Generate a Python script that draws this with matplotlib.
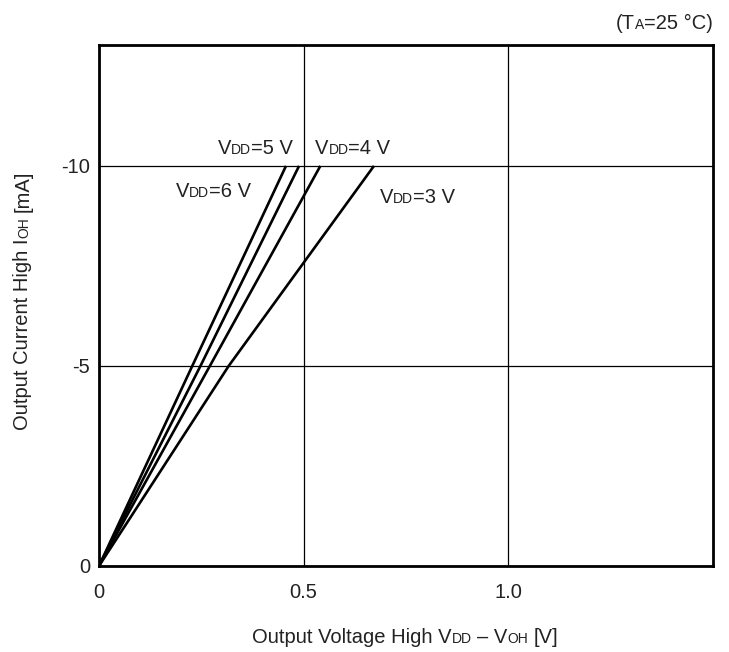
import numpy as np
import matplotlib
matplotlib.use('Agg')
import matplotlib.pyplot as plt
from matplotlib.font_manager import FontProperties
from matplotlib.transforms import offset_copy

plt.rcParams['font.family'] = ['Liberation Sans', 'DejaVu Sans']

FS = 14.5   # main text size
SUB = 10    # small-caps subscript size

# data: IOH [mA] against VDD - VOH [V]
ioh = [0, -5, -10]
voh_6v = [0, 0.228, 0.457]
voh_5v = [0, 0.248, 0.489]
voh_4v = [0, 0.271, 0.541]
voh_3v = [0, 0.317, 0.672]

x_ticks = [0, 0.5, 1.0]
x_tick_labels = ['0', '0.5', '1.0']
y_ticks = [0, -5, -10]
y_tick_labels = ['0', '-5', '-10']

fig = plt.figure(figsize=(7.29, 6.52), dpi=100)
ax = fig.add_axes([0.1358, 0.132, 0.842, 0.7995])
renderer = fig.canvas.get_renderer()


def text_width(s, size):
    prop = FontProperties(family=['Liberation Sans'], size=size)
    w, _, _ = renderer.get_text_width_height_descent(s, prop, ismath=False)
    return w


def piece_width(s, size):
    # measure with the spaces counted by their advance
    core = s.strip(' ')
    sp = text_width('x x', size) - text_width('xx', size)
    n_sp = len(s) - len(core)
    w = text_width(core, size) if core else 0
    return w + n_sp * sp


def rich_text(x, y, parts, transform, ha='left', rotation=0):
    # parts: list of (string, size); drawn one after another on one baseline
    widths = [piece_width(s, sz) for s, sz in parts]
    total = sum(widths)
    if ha == 'center':
        start = -total / 2
    elif ha == 'right':
        start = -total
    else:
        start = 0
    pos = start
    for (s, sz), w in zip(parts, widths):
        lead = len(s) - len(s.lstrip(' '))
        sp = text_width('x x', sz) - text_width('xx', sz)
        off = pos + lead * sp
        if rotation == 90:
            tr = offset_copy(transform, fig=fig, x=0, y=off, units='dots')
        else:
            tr = offset_copy(transform, fig=fig, x=off, y=0, units='dots')
        if s.strip(' '):
            fig.text(x, y, s.strip(' '), transform=tr, fontsize=sz, ha='left',
                     va='baseline', rotation=rotation, rotation_mode='anchor',
                     color='#222222')
        pos += w


for xs in (voh_6v, voh_5v, voh_4v, voh_3v):
    ax.plot(xs, ioh, color='black', lw=1.9, solid_capstyle='butt')

ax.set_xlim(0, 1.5)
ax.set_ylim(0, -13.03)
ax.set_xticks(x_ticks)
ax.set_xticklabels(x_tick_labels, fontsize=FS, color='#222222')
ax.set_yticks(y_ticks)
ax.set_yticklabels(y_tick_labels, fontsize=FS, color='#222222')
ax.tick_params(length=0, pad=6.5)
ax.tick_params(axis='x', pad=12)
ax.grid(True, color='black', lw=0.9)
for sp in ax.spines.values():
    sp.set_linewidth(2.0)
    sp.set_color('black')

# curve labels
curve_labels = [('5 V', 0.290, -10.3), ('4 V', 0.528, -10.3),
                ('6 V', 0.187, -9.22), ('3 V', 0.686, -9.07)]
for lab, lx, ly in curve_labels:
    rich_text(lx, ly, [('V', FS), ('DD', SUB), ('=' + lab, FS)], ax.transData)

# axis titles
rich_text(0.556, 0.0135, [('Output Voltage High V', FS), ('DD', SUB),
                          (' \u2013 V', FS), ('OH', SUB), (' [V]', FS)],
          fig.transFigure, ha='center')
rich_text(0.039, 0.54, [('Output Current High I', FS), ('OH', SUB), (' [mA]', FS)],
          fig.transFigure, ha='center', rotation=90)
rich_text(0.978, 0.955, [('(T', FS), ('A', SUB), ('=25 \u00b0C)', FS)],
          fig.transFigure, ha='right')

fig.savefig('out.png', dpi=100)
